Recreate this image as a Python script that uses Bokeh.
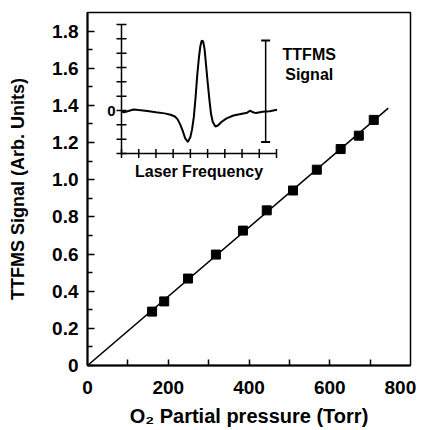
import math
from bokeh.plotting import figure
from bokeh.models import Range1d, FixedTicker, Label
from bokeh.embed import file_html
from bokeh.resources import INLINE

# ---- main data ----
pressure = [160, 190, 249, 318, 385, 444, 509, 568, 627, 672, 709]
signal = [0.29, 0.345, 0.468, 0.597, 0.726, 0.835, 0.942, 1.054, 1.165, 1.237, 1.322]
fit_pressure = [0, 745]
fit_signal = [0, 1.385]

# tick marks every 100 Torr; labels every 200 (the "800" label sits just inside the frame edge)
x_tick_marks = [100, 200, 300, 400, 500, 600, 700]
x_label_at = [0, 200, 400, 600, 775]
x_tick_labels = ["0", "200", "400", "600", "800"]
y_ticks = [0, 0.2, 0.4, 0.6, 0.8, 1.0, 1.2, 1.4, 1.6, 1.8]
y_tick_labels = ["0", "0.2", "0.4", "0.6", "0.8", "1.0", "1.2", "1.4", "1.6", "1.8"]
y_minor = [0.1, 0.3, 0.5, 0.7, 0.9, 1.1, 1.3, 1.5, 1.7]

# ---- inset data (arbitrary units, tick units) ----
inset_freq = [0.0, 0.15, 0.35, 0.7, 1.0, 1.5, 2.0, 2.5, 2.85, 3.1, 3.25, 3.4, 3.55, 3.7,
              3.85, 4.0, 4.1, 4.2, 4.3, 4.4, 4.5, 4.58, 4.66, 4.74, 4.82, 4.9, 5.0, 5.1,
              5.2, 5.3, 5.45, 5.6, 5.8, 6.1, 6.5, 7.0, 7.3, 7.45, 7.6, 7.8, 8.2, 8.6, 9.03]
inset_sig = [-0.05, -0.12, -0.05, 0.07, 0.03, -0.03, -0.12, -0.2, -0.3, -0.42, -0.6, -0.95,
             -1.4, -1.95, -2.2, -1.85, -1.3, -0.45, 0.9, 2.5, 3.75, 4.5, 4.88, 4.82, 4.3,
             3.3, 2.0, 0.8, -0.25, -0.8, -1.12, -1.05, -0.8, -0.55, -0.35, -0.22, -0.15,
             -0.02, -0.1, -0.18, -0.08, -0.05, 0.05]
inset_x_lim = [0, 9]
inset_y_lim = [-3, 6]
inset_x_ticks = [0, 1, 2, 3, 4, 5, 6, 7, 8, 9]
inset_y_ticks = [-3, -2, -1, 0, 1, 2, 3, 4, 5, 6]
signal_bar_x = 8.37

FONT = "Liberation Sans"

p = figure(width=421, height=430,
           x_range=Range1d(0, 800), y_range=Range1d(0, 1.9),
           output_backend="svg", toolbar_location=None,
           min_border_left=87, min_border_right=11,
           min_border_top=12, min_border_bottom=65)

p.xgrid.visible = False
p.ygrid.visible = False
p.outline_line_color = "black"
p.outline_line_width = 1.5
p.background_fill_color = "white"
p.border_fill_color = "white"

# x axis
xa = p.xaxis[0]
xa.ticker = FixedTicker(ticks=x_label_at, minor_ticks=x_tick_marks)
xa.major_label_overrides = {t: l for t, l in zip(x_label_at, x_tick_labels)}
xa.axis_label = "O\u2082 Partial pressure (Torr)"
xa.axis_label_text_font = FONT
xa.axis_label_text_font_style = "bold"
xa.axis_label_text_font_size = "20px"
xa.axis_label_text_color = "black"
xa.axis_label_standoff = 8
xa.major_label_text_font = FONT
xa.major_label_text_font_style = "bold"
xa.major_label_text_font_size = "19px"
xa.major_label_text_color = "black"
xa.major_label_standoff = 15
xa.major_tick_in = 0
xa.major_tick_out = 0
xa.minor_tick_in = 6
xa.minor_tick_out = 0
xa.axis_line_width = 2
xa.minor_tick_line_width = 1.5
xa.axis_line_color = "black"
xa.minor_tick_line_color = "black"

# y axis
ya = p.yaxis[0]
ya.ticker = FixedTicker(ticks=y_ticks, minor_ticks=y_minor)
ya.major_label_overrides = {t: l for t, l in zip(y_ticks, y_tick_labels)}
ya.axis_label = "TTFMS Signal (Arb. Units)"
ya.axis_label_text_font = FONT
ya.axis_label_text_font_style = "bold"
ya.axis_label_text_font_size = "18px"
ya.axis_label_text_color = "black"
ya.axis_label_standoff = 21
ya.major_label_text_font = FONT
ya.major_label_text_font_style = "bold"
ya.major_label_text_font_size = "19px"
ya.major_label_text_color = "black"
ya.major_label_standoff = 9
ya.major_tick_in = 7
ya.major_tick_out = 0
ya.minor_tick_in = 5
ya.minor_tick_out = 0
ya.axis_line_width = 2
ya.major_tick_line_width = 1.5
ya.minor_tick_line_width = 1.5
ya.axis_line_color = "black"
ya.major_tick_line_color = "black"
ya.minor_tick_line_color = "black"

# main data
p.line(fit_pressure, fit_signal, line_color="black", line_width=1.5)
p.scatter(pressure, signal, marker="square", size=9, color="black")

# ---- inset drawn on its own ranges ----
p.extra_x_ranges = {"inset": Range1d(-1.974, 16.78)}
p.extra_y_ranges = {"inset": Range1d(-17.79, 6.837)}
kw = dict(x_range_name="inset", y_range_name="inset")

p.line(x=[inset_x_lim[0]] * 2, y=inset_y_lim, line_color="black", line_width=1.5, **kw)
p.line(x=inset_x_lim, y=[inset_y_lim[0]] * 2, line_color="black", line_width=1.5, **kw)
p.scatter(x=[inset_x_lim[0]] * len(inset_y_ticks), y=inset_y_ticks, marker="dash",
          size=10, line_color="black", line_width=1.5, **kw)
p.scatter(x=inset_x_ticks, y=[inset_y_lim[0]] * len(inset_x_ticks), marker="dash",
          angle=math.pi / 2, size=9, line_color="black", line_width=1.5, **kw)
p.line(inset_freq, inset_sig, line_color="black", line_width=2, **kw)

sig_min, sig_max = min(inset_sig), max(inset_sig)
p.segment(x0=[signal_bar_x], y0=[sig_min], x1=[signal_bar_x], y1=[sig_max],
          line_color="black", line_width=1.5, **kw)
p.scatter(x=[signal_bar_x, signal_bar_x], y=[sig_min, sig_max], marker="dash",
          size=9, line_color="black", line_width=2, **kw)

p.add_layout(Label(x=-0.35, y=0, text="0", text_align="right", text_baseline="middle",
                   text_font=FONT, text_font_style="bold", text_font_size="15px",
                   text_color="black", **kw))
p.add_layout(Label(x=4.5, y=-4.25, text="Laser Frequency", text_align="center",
                   text_baseline="middle", text_font=FONT, text_font_style="bold",
                   text_font_size="16px", text_color="black", **kw))
p.add_layout(Label(x=10.9, y=3.89, text="TTFMS", text_align="center",
                   text_baseline="middle", text_font=FONT, text_font_style="bold",
                   text_font_size="16px", text_color="black", **kw))
p.add_layout(Label(x=10.9, y=2.5, text="Signal", text_align="center",
                   text_baseline="middle", text_font=FONT, text_font_style="bold",
                   text_font_size="16px", text_color="black", **kw))

open("out.html", "w").write(file_html(p, INLINE))
